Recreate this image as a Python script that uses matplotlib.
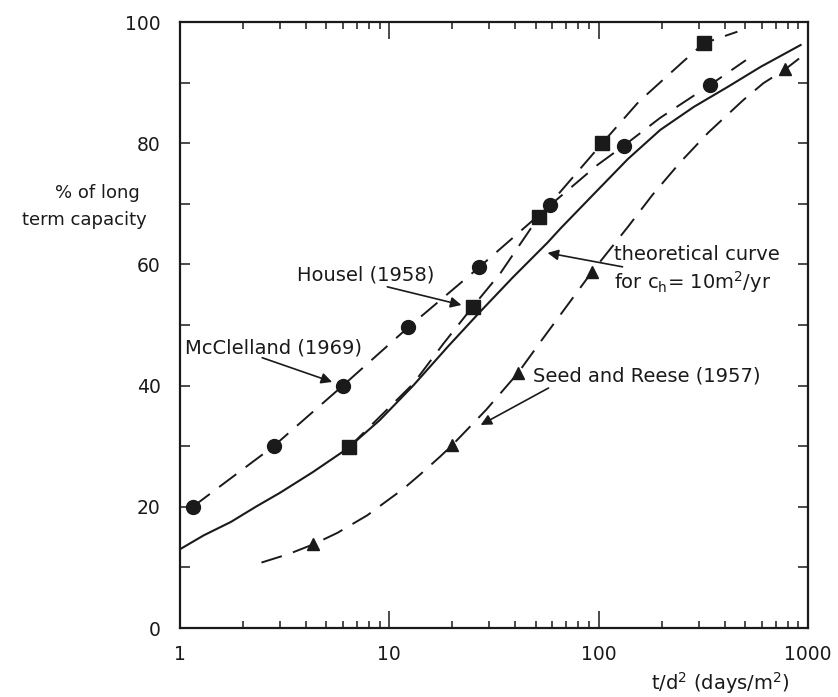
import matplotlib
matplotlib.use('Agg')
import matplotlib.pyplot as plt
from matplotlib.ticker import FixedLocator, NullFormatter, LogLocator

# data
theory_x = [1.0, 1.3, 1.75, 2.3, 3.0, 4.3, 6.3, 9.0, 13, 19, 27, 39, 57, 66, 96, 138, 197, 285, 414, 594, 922]
theory_y = [13.0, 15.3, 17.5, 20.0, 22.3, 25.7, 29.6, 34.3, 40.0, 46.4, 52.1, 57.9, 63.6, 66.0, 71.8, 77.4, 82.2, 86.0, 89.3, 92.6, 96.2]

mcc_x = [1.15, 2.8, 6.0, 12.3, 26.8, 58.8, 132, 340]
mcc_y = [20, 30, 40, 49.6, 59.5, 69.8, 79.6, 89.6]
mcc_line_x = [1.15, 2.8, 6.0, 12.3, 26.8, 58.8, 98.6, 132, 197, 340, 505]
mcc_line_y = [20, 30, 40, 49.6, 59.5, 69.8, 76.4, 79.6, 84.2, 89.6, 93.7]

hou_x = [6.4, 25.0, 51.6, 104, 318]
hou_y = [29.8, 53.0, 67.8, 80.0, 96.5]
hou_line_x = [6.4, 13.0, 18.2, 25.0, 34.0, 51.6, 104, 155, 252, 318, 460]
hou_line_y = [29.8, 40.3, 47.0, 53.0, 58.6, 67.8, 80.0, 86.8, 93.4, 96.5, 98.4]

seed_x = [4.33, 20.0, 41.0, 92.6, 778]
seed_y = [13.8, 30.2, 42.0, 58.7, 92.2]
seed_line_x = [2.45, 3.3, 4.33, 5.65, 7.85, 11.7, 14.0, 17.5, 20.0, 29.0, 41.0, 54.5, 92.6, 138, 181, 246, 335, 490, 612, 778, 925]
seed_line_y = [10.8, 12.2, 13.8, 15.7, 18.6, 23.0, 25.3, 28.3, 30.2, 36.0, 42.0, 47.9, 58.7, 66.2, 71.5, 76.9, 81.8, 87.1, 89.9, 92.2, 94.2]

y_major = [0, 20, 40, 60, 80, 100]
y_minor = [10, 30, 50, 70, 90]
x_major = [1, 10, 100, 1000]

ink = '#1a1a1a'
plt.rcParams['font.family'] = 'DejaVu Sans'

fig = plt.figure(figsize=(8.38, 6.97), dpi=100)
ax = fig.add_axes([180 / 838, 1 - 628 / 697, 628 / 838, 606 / 697])

dash = (0, (11, 6))
ax.plot(theory_x, theory_y, color=ink, lw=1.5)
ax.plot(mcc_line_x, mcc_line_y, color=ink, lw=1.4, ls=dash)
ax.plot(hou_line_x, hou_line_y, color=ink, lw=1.4, ls=dash)
ax.plot(seed_line_x, seed_line_y, color=ink, lw=1.4, ls=dash)

ax.plot(mcc_x, mcc_y, 'o', color=ink, ms=10)
ax.plot(hou_x, hou_y, 's', color=ink, ms=10)
ax.plot(seed_x, seed_y, '^', color=ink, ms=9)

ax.set_xscale('log')
ax.set_xlim(1, 1000)
ax.set_ylim(0, 100)

ax.xaxis.set_major_locator(FixedLocator(x_major))
ax.xaxis.set_minor_locator(LogLocator(base=10, subs=range(2, 10)))
ax.xaxis.set_minor_formatter(NullFormatter())
ax.set_xticklabels([str(v) for v in x_major])
ax.yaxis.set_major_locator(FixedLocator(y_major))
ax.yaxis.set_minor_locator(FixedLocator(y_minor))
ax.set_yticklabels([str(v) for v in y_major])

ax.tick_params(axis='both', which='both', direction='in', top=True, right=True,
               colors=ink, labelsize=13.5, width=1.1)
ax.tick_params(axis='x', which='major', length=12, pad=12)
ax.tick_params(axis='x', which='minor', length=5)
ax.tick_params(axis='y', which='both', length=7, pad=14)
for s in ax.spines.values():
    s.set_linewidth(1.6)
    s.set_color(ink)

arrow = dict(arrowstyle='-|>', color=ink, lw=1.2, mutation_scale=16, shrinkA=0, shrinkB=0)
fs = 14
ax.text(1.056, 46.2, 'McClelland (1969)', fontsize=fs, color=ink, ha='left', va='center')
ax.annotate('', xy=(5.33, 40.6), xytext=(2.47, 44.6), arrowprops=arrow)

ax.text(3.63, 58.3, 'Housel (1958)', fontsize=fs, color=ink, ha='left', va='center')
ax.annotate('', xy=(22.1, 53.3), xytext=(9.78, 56.3), arrowprops=arrow)

ax.text(118.5, 61.6, 'theoretical curve', fontsize=fs, color=ink, ha='left', va='center')
ax.text(118.5, 57.1, 'for c$_{\\mathregular{h}}$= 10m$^{\\mathregular{2}}$/yr', fontsize=fs,
        color=ink, ha='left', va='center')
ax.annotate('', xy=(57.0, 61.9), xytext=(130, 59.6), arrowprops=arrow)

ax.text(48.8, 41.6, 'Seed and Reese (1957)', fontsize=fs, color=ink, ha='left', va='center')
ax.annotate('', xy=(27.3, 33.5), xytext=(57.6, 39.6), arrowprops=arrow)

fig.text(97 / 838, 1 - 193 / 697, '% of long', fontsize=13, color=ink, ha='center', va='center')
fig.text(84 / 838, 1 - 220 / 697, 'term capacity', fontsize=13, color=ink, ha='center', va='center')
fig.text(790 / 838, 1 - 683 / 697, 't/d$^{\\mathregular{2}}$ (days/m$^{\\mathregular{2}}$)', fontsize=14,
         color=ink, ha='right', va='center')

fig.savefig('out.png', dpi=100)
